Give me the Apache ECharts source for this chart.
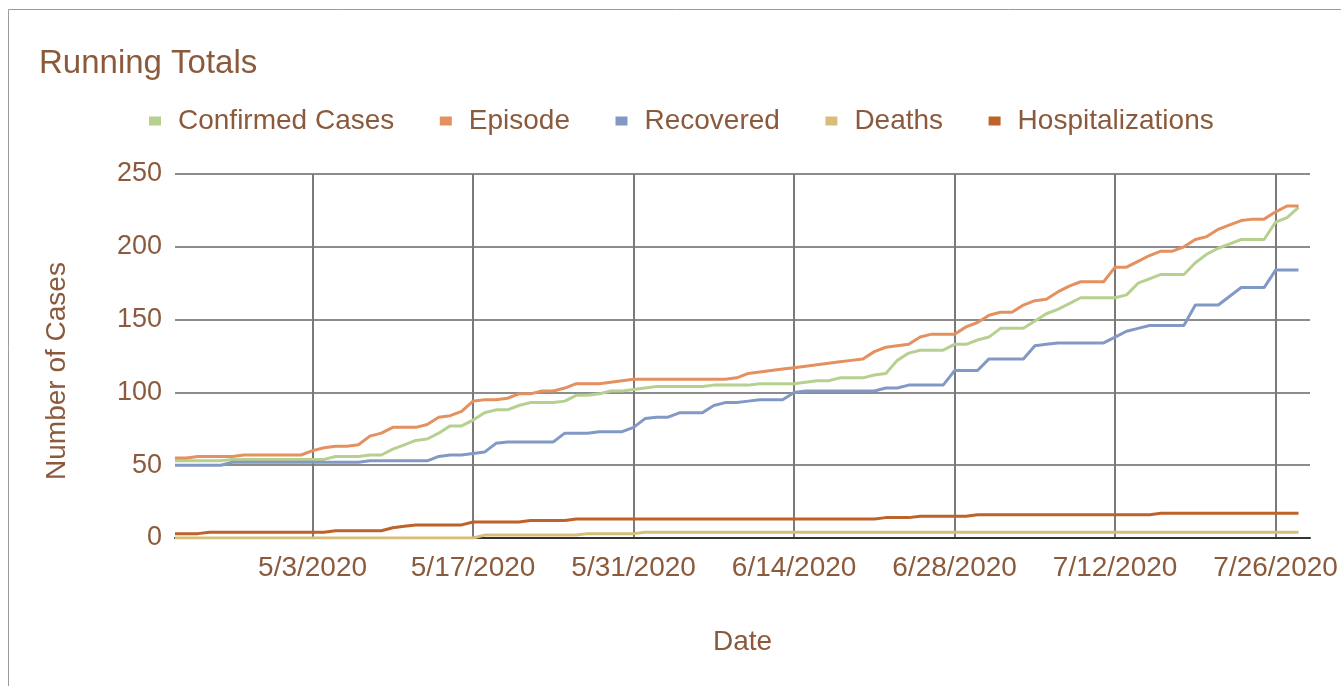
<!DOCTYPE html>
<html>
<head>
<meta charset="utf-8">
<script src="https://cdn.jsdelivr.net/npm/echarts@6/dist/echarts.min.js"></script>
<style>
html,body{margin:0;padding:0;background:#fff;}
#chart{width:1341px;height:686px;}
</style>
</head>
<body>
<div id="chart"></div>
<script>
const dates = [
'4/21/2020','4/22/2020','4/23/2020','4/24/2020','4/25/2020','4/26/2020','4/27/2020','4/28/2020','4/29/2020','4/30/2020',
'5/1/2020','5/2/2020','5/3/2020','5/4/2020','5/5/2020','5/6/2020','5/7/2020','5/8/2020','5/9/2020','5/10/2020',
'5/11/2020','5/12/2020','5/13/2020','5/14/2020','5/15/2020','5/16/2020','5/17/2020','5/18/2020','5/19/2020','5/20/2020',
'5/21/2020','5/22/2020','5/23/2020','5/24/2020','5/25/2020','5/26/2020','5/27/2020','5/28/2020','5/29/2020','5/30/2020',
'5/31/2020','6/1/2020','6/2/2020','6/3/2020','6/4/2020','6/5/2020','6/6/2020','6/7/2020','6/8/2020','6/9/2020',
'6/10/2020','6/11/2020','6/12/2020','6/13/2020','6/14/2020','6/15/2020','6/16/2020','6/17/2020','6/18/2020','6/19/2020',
'6/20/2020','6/21/2020','6/22/2020','6/23/2020','6/24/2020','6/25/2020','6/26/2020','6/27/2020','6/28/2020','6/29/2020',
'6/30/2020','7/1/2020','7/2/2020','7/3/2020','7/4/2020','7/5/2020','7/6/2020','7/7/2020','7/8/2020','7/9/2020',
'7/10/2020','7/11/2020','7/12/2020','7/13/2020','7/14/2020','7/15/2020','7/16/2020','7/17/2020','7/18/2020','7/19/2020',
'7/20/2020','7/21/2020','7/22/2020','7/23/2020','7/24/2020','7/25/2020','7/26/2020','7/27/2020','7/28/2020','7/29/2020'
];
const tickLabels = ['5/3/2020','5/17/2020','5/31/2020','6/14/2020','6/28/2020','7/12/2020','7/26/2020'];
const seriesNames = ['Confirmed Cases','Episode','Recovered','Deaths','Hospitalizations'];
const confirmed = [
53,53,53,53,53,54,54,54,54,54,
54,54,54,54,56,56,56,57,57,61,
64,67,68,72,77,77,81,86,88,88,
91,93,93,93,94,98,98,99,101,101,
102,103,104,104,104,104,104,105,105,105,
105,106,106,106,106,107,108,108,110,110,
110,112,113,122,127,129,129,129,133,133,
136,138,144,144,144,149,154,157,161,165,
165,165,165,167,175,178,181,181,181,189,
195,199,202,205,205,205,217,220,227
];
const episode = [
55,55,56,56,56,56,57,57,57,57,
57,57,60,62,63,63,64,70,72,76,
76,76,78,83,84,87,94,95,95,96,
99,99,101,101,103,106,106,106,107,108,
109,109,109,109,109,109,109,109,109,110,
113,114,115,116,117,118,119,120,121,122,
123,128,131,132,133,138,140,140,140,145,
148,153,155,155,160,163,164,169,173,176,
176,176,186,186,190,194,197,197,200,205,
207,212,215,218,219,219,224,228,228
];
const recovered = [
50,50,50,50,50,52,52,52,52,52,
52,52,52,52,52,52,52,53,53,53,
53,53,53,56,57,57,58,59,65,66,
66,66,66,66,72,72,72,73,73,73,
76,82,83,83,86,86,86,91,93,93,
94,95,95,95,100,101,101,101,101,101,
101,101,103,103,105,105,105,105,115,115,
115,123,123,123,123,132,133,134,134,134,
134,134,138,142,144,146,146,146,146,160,
160,160,166,172,172,172,184,184,184
];
const deaths = [
0,0,0,0,0,0,0,0,0,0,
0,0,0,0,0,0,0,0,0,0,
0,0,0,0,0,0,0,2,2,2,
2,2,2,2,2,2,3,3,3,3,
3,4,4,4,4,4,4,4,4,4,
4,4,4,4,4,4,4,4,4,4,
4,4,4,4,4,4,4,4,4,4,
4,4,4,4,4,4,4,4,4,4,
4,4,4,4,4,4,4,4,4,4,
4,4,4,4,4,4,4,4,4
];
const hospitalizations = [
3,3,3,4,4,4,4,4,4,4,
4,4,4,4,5,5,5,5,5,7,
8,9,9,9,9,9,11,11,11,11,
11,12,12,12,12,13,13,13,13,13,
13,13,13,13,13,13,13,13,13,13,
13,13,13,13,13,13,13,13,13,13,
13,13,14,14,14,15,15,15,15,15,
16,16,16,16,16,16,16,16,16,16,
16,16,16,16,16,16,17,17,17,17,
17,17,17,17,17,17,17,17,17
];
const colors = ['#b6d08f','#e4905f','#8299c5','#d8bd79','#bd6228'];
const textColor = '#8b5a3c';
const font = "'Liberation Sans', Arial, sans-serif";
const isTick = (idx, val) => tickLabels.indexOf(val) >= 0;

const chart = echarts.init(document.getElementById('chart'), null, {renderer: 'canvas'});
const values = [confirmed, episode, recovered, deaths, hospitalizations];
chart.setOption({
  animation: false,
  backgroundColor: '#fff',
  color: colors,
  graphic: [{
    type: 'rect', left: 6, top: 7, silent: true,
    shape: {x: 0.5, y: 0.5, width: 1400, height: 700},
    style: {fill: 'none', stroke: '#9c9c9c', lineWidth: 1}
  }],
  title: {
    text: 'Running Totals', left: 39, top: 47, padding: 0,
    textStyle: {color: textColor, fontSize: 33, fontWeight: 'normal', fontFamily: font}
  },
  legend: {
    top: 107, left: 149, padding: 0, itemGap: 45.5,
    itemWidth: 12, itemHeight: 9, icon: 'rect',
    textStyle: {color: textColor, fontSize: 28, fontFamily: font, padding: [0,0,0,12]},
    data: seriesNames
  },
  grid: {left: 175, right: 31, top: 174, bottom: 148, containLabel: false},
  xAxis: {
    type: 'category', data: dates, boundaryGap: false,
    name: 'Date', nameLocation: 'middle', nameGap: 90,
    nameTextStyle: {color: textColor, fontSize: 28, fontFamily: font},
    axisLine: {show: true, lineStyle: {color: '#333', width: 2}},
    axisTick: {show: false},
    axisLabel: {interval: isTick, color: textColor, fontSize: 28, fontFamily: font, margin: 16, hideOverlap: false},
    splitLine: {show: true, interval: isTick, lineStyle: {color: '#7a7a7a', width: 2}}
  },
  yAxis: {
    type: 'value', min: 0, max: 250, interval: 50,
    name: 'Number of Cases', nameLocation: 'middle', nameGap: 104,
    nameTextStyle: {color: textColor, fontSize: 28, fontFamily: font, padding: [0, 30, 0, 0]},
    axisLine: {show: false}, axisTick: {show: false},
    axisLabel: {color: textColor, fontSize: 27, fontFamily: font, margin: 13},
    splitLine: {lineStyle: {color: '#666', width: 1.5}}
  },
  series: seriesNames.map((n, k) => ({
    name: n, type: 'line', data: values[k], showSymbol: false, symbol: 'none',
    lineStyle: {width: 3, color: colors[k]}, itemStyle: {color: colors[k]}
  }))
});
</script>
</body>
</html>
